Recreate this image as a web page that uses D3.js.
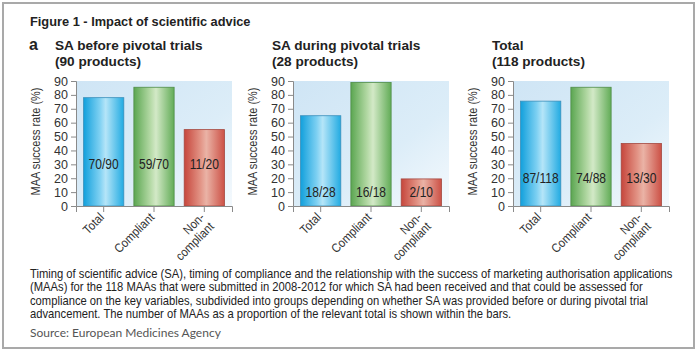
<!DOCTYPE html>
<html>
<head>
<meta charset="utf-8">
<script src="https://cdn.jsdelivr.net/npm/d3@7"></script>
<style>
  body { margin: 0; background: #fff; }
  svg { display: block; }
</style>
</head>
<body>
<div id="chart-area"></div>
<script>
const categories = ["Total", "Compliant", "Non-compliant"];
const panelTitles = [
  ["SA before pivotal trials", "(90 products)"],
  ["SA during pivotal trials", "(28 products)"],
  ["Total", "(118 products)"]
];
const beforeValues = [78, 85.5, 55];
const duringValues = [65, 89, 19.5];
const totalValues = [75.5, 85.5, 45];
const beforeLabels = ["70/90", "59/70", "11/20"];
const duringLabels = ["18/28", "16/18", "2/10"];
const totalLabels = ["87/118", "74/88", "13/30"];
const labelLevels = [30, 10, 20];
const yTicks = [0, 10, 20, 30, 40, 50, 60, 70, 80, 90];

const panels = [
  { values: beforeValues, labels: beforeLabels, x: 76 },
  { values: duringValues, labels: duringLabels, x: 293 },
  { values: totalValues, labels: totalLabels, x: 513 }
];

const svgWidth = 700;
const svgHeight = 353;
const plotTop = 81;
const plotBottom = 206;
const plotWidth = 156;
const font = "'Liberation Sans', Arial, sans-serif";

const svg = d3.select("#chart-area")
  .append("svg")
  .attr("width", svgWidth)
  .attr("height", svgHeight);

const defs = svg.append("defs");

const bg = defs.append("linearGradient")
  .attr("id", "bg-grad")
  .attr("x1", "0").attr("y1", "0").attr("x2", "1").attr("y2", "1");
bg.append("stop").attr("offset", "0%").attr("stop-color", "#cfe5f5");
bg.append("stop").attr("offset", "60%").attr("stop-color", "#dcedf8");
bg.append("stop").attr("offset", "100%").attr("stop-color", "#f4f9fd");

const barColors = [
  { id: "bar-blue", stops: ["#12a0dc", "#7dd0f2", "#b5e5f8", "#22abe2"], stroke: "#3a8fba" },
  { id: "bar-green", stops: ["#5ba651", "#b2d8a3", "#d3e9c7", "#62ac57"], stroke: "#4f8c48" },
  { id: "bar-red", stops: ["#c6463c", "#e29385", "#eab3a6", "#cc5146"], stroke: "#a4473f" }
];
barColors.forEach(c => {
  const g = defs.append("linearGradient")
    .attr("id", c.id)
    .attr("x1", "0").attr("y1", "0").attr("x2", "1").attr("y2", "0");
  [0, 40, 55, 100].forEach((o, i) => {
    g.append("stop").attr("offset", o + "%").attr("stop-color", c.stops[i]);
  });
});

// outer frame
svg.append("rect")
  .attr("x", 3).attr("y", 3)
  .attr("width", 691).attr("height", 345)
  .attr("fill", "none")
  .attr("stroke", "#a9a9a9")
  .attr("stroke-width", 2);

svg.append("text")
  .attr("x", 30).attr("y", 26)
  .attr("font-family", font)
  .attr("font-weight", "bold")
  .attr("font-size", 12.8)
  .attr("fill", "#222")
  .text("Figure 1 - Impact of scientific advice");

svg.append("text")
  .attr("x", 29).attr("y", 50)
  .attr("font-family", font)
  .attr("font-weight", "bold")
  .attr("font-size", 16)
  .attr("fill", "#222")
  .text("a");

const y = d3.scaleLinear()
  .domain([0, 90])
  .range([plotBottom, plotTop]);

panels.forEach((p, pi) => {
  const x = d3.scaleBand()
    .domain(categories)
    .range([0, plotWidth])
    .paddingInner(0.2)
    .paddingOuter(0.15);

  const g = svg.append("g")
    .attr("transform", `translate(${p.x}, 0)`);

  // title
  const title = g.append("text")
    .attr("font-family", font)
    .attr("font-weight", "bold")
    .attr("font-size", 13.6)
    .attr("fill", "#222");
  title.append("tspan").attr("x", -21).attr("y", 50).text(panelTitles[pi][0]);
  title.append("tspan").attr("x", -21).attr("y", 66).text(panelTitles[pi][1]);

  g.append("rect")
    .attr("x", 0).attr("y", plotTop)
    .attr("width", plotWidth)
    .attr("height", plotBottom - plotTop)
    .attr("fill", "url(#bg-grad)");

  g.selectAll("rect.bar")
    .data(p.values)
    .enter()
    .append("rect")
      .attr("class", "bar")
      .attr("x", (d, i) => x(categories[i]))
      .attr("y", d => y(d))
      .attr("width", x.bandwidth())
      .attr("height", d => plotBottom - y(d))
      .attr("fill", (d, i) => `url(#${barColors[i].id})`)
      .attr("stroke", (d, i) => barColors[i].stroke)
      .attr("stroke-width", 0.8);

  // fraction labels, a bit condensed like the original
  g.selectAll("text.frac")
    .data(p.labels)
    .enter()
    .append("text")
      .attr("class", "frac")
      .attr("transform", (d, i) =>
        `translate(${x(categories[i]) + x.bandwidth() / 2}, ${y(labelLevels[pi]) + 5}) scale(0.86, 1)`)
      .attr("text-anchor", "middle")
      .attr("font-family", font)
      .attr("font-size", 14)
      .attr("fill", "#222")
      .text(d => d);

  const yAxis = g.append("g")
    .call(d3.axisLeft(y).tickValues(yTicks).tickSize(5).tickPadding(3));
  yAxis.select(".domain").attr("stroke", "#8a8a8a");
  yAxis.selectAll(".tick line").attr("stroke", "#8a8a8a");
  yAxis.selectAll(".tick text")
    .attr("font-family", font)
    .attr("font-size", 12.5)
    .attr("fill", "#333");

  const xAxis = g.append("g")
    .attr("transform", `translate(0, ${plotBottom})`)
    .call(d3.axisBottom(x).tickSize(6).tickFormat(""));
  xAxis.select(".domain").attr("stroke", "#8a8a8a");
  xAxis.selectAll(".tick line").attr("stroke", "#8a8a8a");

  xAxis.selectAll(".tick").each(function(d) {
    const t = d3.select(this).append("text")
      .attr("transform", "translate(-2, 9) rotate(-45) scale(0.9, 1)")
      .attr("text-anchor", "end")
      .attr("font-family", font)
      .attr("font-size", 12.5)
      .attr("fill", "#333");
    if (d === "Non-compliant") {
      t.append("tspan").attr("x", 0).attr("dy", "0.35em").text("Non-");
      t.append("tspan").attr("x", 0).attr("dy", "1.05em").text("compliant");
    } else {
      t.append("tspan").attr("x", 0).attr("dy", "0.35em").text(d);
    }
  });

  g.append("text")
    .attr("transform", "rotate(-90)")
    .attr("x", -(plotTop + plotBottom) / 2 + 2)
    .attr("y", -36)
    .attr("text-anchor", "middle")
    .attr("font-family", font)
    .attr("font-size", 13)
    .attr("textLength", 108)
    .attr("lengthAdjust", "spacingAndGlyphs")
    .attr("fill", "#333")
    .text("MAA success rate (%)");
});

const captionLines = [
  "Timing of scientific advice (SA), timing of compliance and the relationship with the success of marketing authorisation applications",
  "(MAAs) for the 118 MAAs that were submitted in 2008-2012 for which SA had been received and that could be assessed for",
  "compliance on the key variables, subdivided into groups depending on whether SA was provided before or during pivotal trial",
  "advancement. The number of MAAs as a proportion of the relevant total is shown within the bars."
];

const caption = svg.append("g");
caption.selectAll("text")
  .data(captionLines)
  .enter()
  .append("text")
    .attr("x", 0)
    .attr("y", (d, i) => 278 + i * 13.3)
    .attr("font-family", font)
    .attr("font-size", 12)
    .attr("fill", "#222")
    .text(d => d);

// squeeze the caption so the first line ends where the original does
const firstLen = caption.select("text").node().getComputedTextLength();
const squeeze = Math.min(1, 643 / firstLen);
caption.attr("transform", `translate(30, 0) scale(${squeeze}, 1)`);

svg.append("text")
  .attr("x", 30).attr("y", 337)
  .attr("font-family", "Lato, 'Open Sans', sans-serif")
  .attr("font-size", 12)
  .attr("fill", "#555")
  .text("Source: European Medicines Agency");
</script>
</body>
</html>
